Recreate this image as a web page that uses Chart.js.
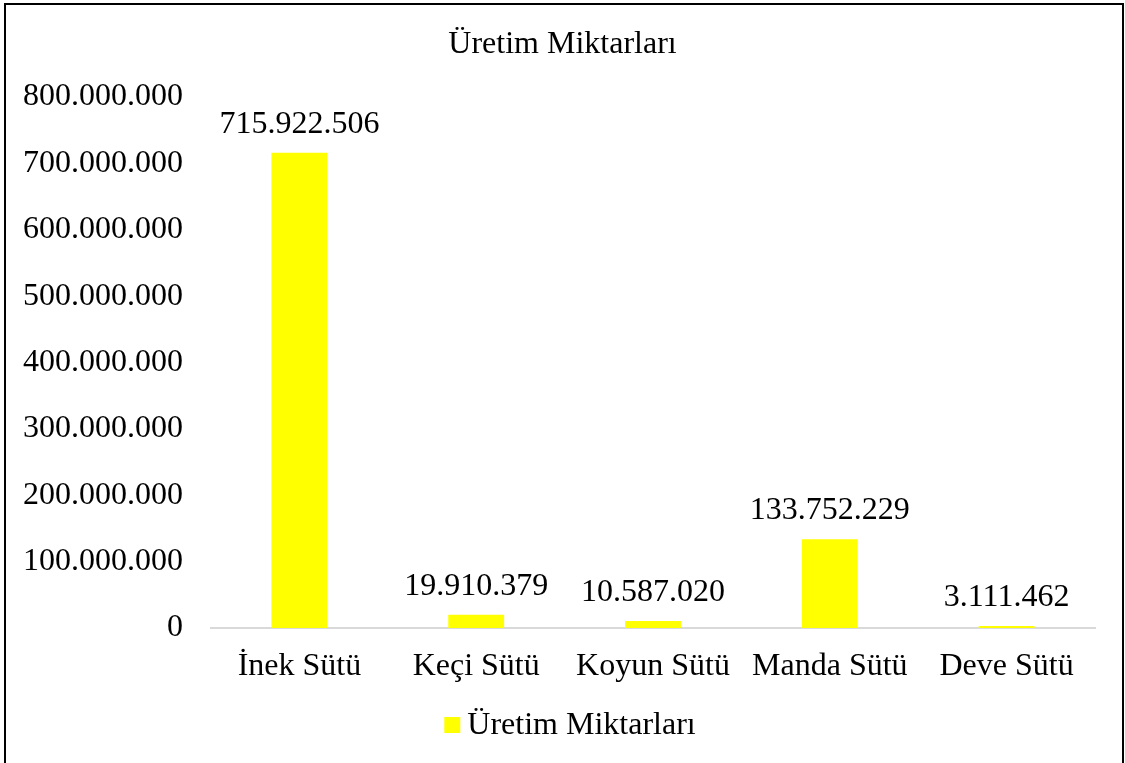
<!DOCTYPE html>
<html>
<head>
<meta charset="utf-8">
<script src="https://cdn.jsdelivr.net/npm/chart.js@4/dist/chart.umd.min.js"></script>
<style>
  html, body { margin: 0; padding: 0; background: #fff; }
  #wrap { position: relative; width: 1125px; height: 763px; }
</style>
</head>
<body>
<div id="wrap"><canvas id="c" width="1125" height="763"></canvas></div>
<script>
const categories = ['İnek Sütü', 'Keçi Sütü', 'Koyun Sütü', 'Manda Sütü', 'Deve Sütü'];
const seriesName = 'Üretim Miktarları';
const productionValues = [715922506, 19910379, 10587020, 133752229, 3111462];
const yTicks = [0, 100000000, 200000000, 300000000, 400000000, 500000000, 600000000, 700000000, 800000000];

const FONT = "'Liberation Serif', 'Times New Roman', serif";
const fmt = v => String(Math.round(v)).replace(/\B(?=(\d{3})+(?!\d))/g, '.');

const borderPlugin = {
  id: 'outerBorder',
  afterDraw(chart) {
    const ctx = chart.ctx;
    ctx.save();
    ctx.strokeStyle = '#000';
    ctx.lineWidth = 2;
    ctx.strokeRect(5, 4, 1118, 800);
    ctx.restore();
  }
};

const valueLabels = {
  id: 'valueLabels',
  afterDatasetsDraw(chart) {
    const ctx = chart.ctx;
    const meta = chart.getDatasetMeta(0);
    const data = chart.data.datasets[0].data;
    ctx.save();
    ctx.font = '32px ' + FONT;
    ctx.fillStyle = '#000';
    ctx.textAlign = 'center';
    ctx.textBaseline = 'alphabetic';
    meta.data.forEach((bar, i) => {
      ctx.fillText(fmt(data[i]), bar.x, bar.y - 20);
    });
    ctx.restore();
  }
};

const customLegend = {
  id: 'customLegend',
  afterDraw(chart) {
    const ctx = chart.ctx;
    const ds = chart.data.datasets[0];
    ctx.save();
    ctx.font = '32px ' + FONT;
    const tw = ctx.measureText(ds.label).width;
    const total = 16 + 7 + tw;
    const x0 = chart.width / 2 - total / 2 + 7.5;
    ctx.fillStyle = ds.backgroundColor;
    ctx.fillRect(x0, 717, 16, 16);
    ctx.fillStyle = '#000';
    ctx.textAlign = 'left';
    ctx.textBaseline = 'alphabetic';
    ctx.fillText(ds.label, x0 + 23, 734);
    ctx.restore();
  }
};

new Chart(document.getElementById('c'), {
  type: 'bar',
  data: {
    labels: categories,
    datasets: [{
      label: seriesName,
      data: productionValues,
      backgroundColor: '#FFFF00',
      borderWidth: 0,
      categoryPercentage: 1,
      barPercentage: 0.316
    }]
  },
  options: {
    responsive: false,
    animation: false,
    layout: { padding: { left: 0, right: 0, top: 0, bottom: 58.6 } },
    plugins: {
      legend: { display: false },
      tooltip: { enabled: false },
      title: {
        display: true,
        text: seriesName,
        color: '#000',
        font: { family: FONT, size: 32, weight: 'normal' },
        padding: { top: 25, bottom: 33.6 }
      }
    },
    scales: {
      x: {
        grid: { display: false, drawTicks: false },
        border: { display: true, color: '#d9d9d9', width: 2 },
        ticks: { color: '#000', font: { family: FONT, size: 32 }, padding: 19, maxRotation: 0 }
      },
      y: {
        min: 0,
        max: 800000000,
        afterBuildTicks: s => { s.ticks = yTicks.map(v => ({ value: v })); },
        afterFit: s => { s.width = 211; },
        grid: { display: false, drawTicks: false },
        border: { display: false },
        ticks: { color: '#000', font: { family: FONT, size: 32 }, padding: 28, callback: v => fmt(v) }
      },
      yRight: {
        position: 'right',
        display: true,
        min: 0,
        max: 1,
        afterFit: s => { s.width = 30; },
        grid: { display: false, drawTicks: false },
        border: { display: false },
        ticks: { display: false }
      }
    }
  },
  plugins: [borderPlugin, valueLabels, customLegend]
});
</script>
</body>
</html>
